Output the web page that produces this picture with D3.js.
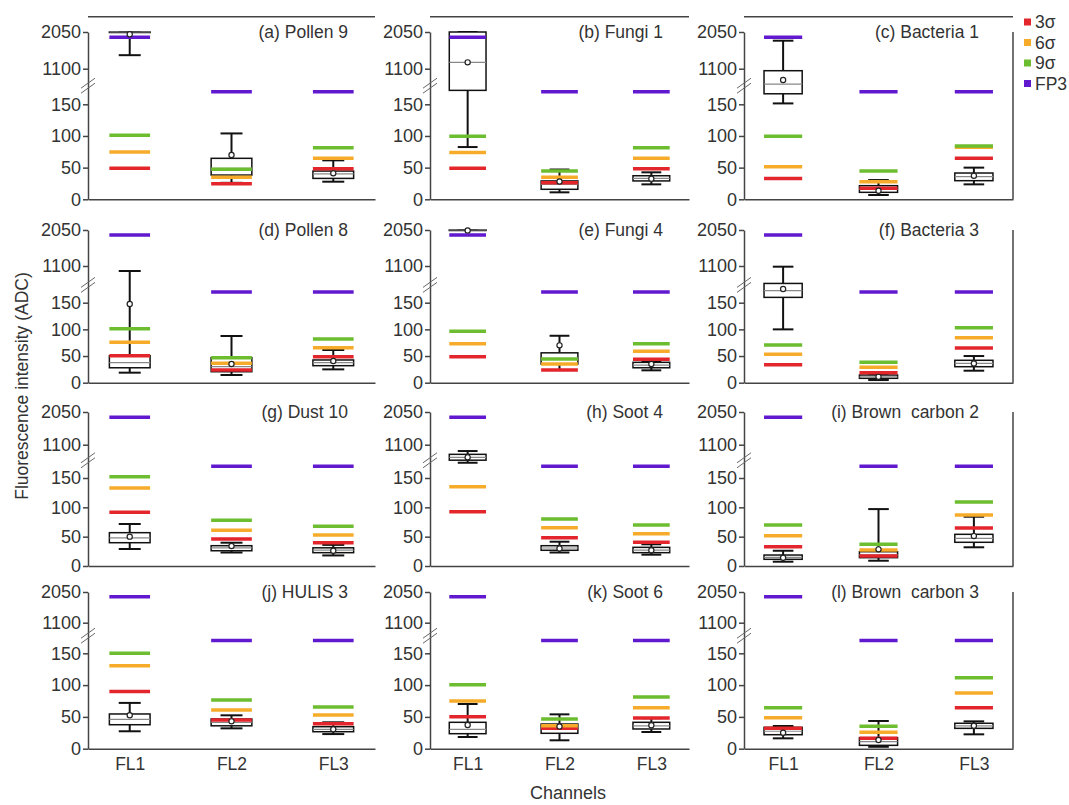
<!DOCTYPE html>
<html>
<head>
<meta charset="utf-8">
<script src="https://cdn.jsdelivr.net/npm/d3@7"></script>
<style>
  body { margin: 0; background: #fff; }
  text { font-family: "Liberation Sans", Arial, sans-serif; fill: #333; }
  .axis path, .axis line { stroke: #444; stroke-width: 1.5; }
</style>
</head>
<body>
<svg id="chart" width="1069" height="805"></svg>
<script>
// categories
const channels = ["FL1", "FL2", "FL3"];
const panelNames = [
  "(a) Pollen 9", "(b) Fungi 1", "(c) Bacteria 1",
  "(d) Pollen 8", "(e) Fungi 4", "(f) Bacteria 3",
  "(g) Dust 10", "(h) Soot 4", "(i) Brown  carbon 2",
  "(j) HULIS 3", "(k) Soot 6", "(l) Brown  carbon 3"
];
const yTicks = [0, 50, 100, 150, 1100, 2050];
const legendNames = ["3σ", "6σ", "9σ", "FP3"];

// threshold lines, one row per panel, [FL1, FL2, FL3]
const sigma3 = [
  [49, 24.6, 48.3], [49, 26, 48.3], [33, 17.4, 65],
  [50.6, 23.8, 48.8], [48.8, 23.8, 43.8], [33.8, 18.8, 65],
  [91.5, 46, 39.7], [92.6, 48.2, 40.4], [33, 17, 64.8],
  [90, 45, 39.3], [50.3, 32, 48.3], [32, 16.3, 64.5]
];
const sigma6 = [
  [74.6, 34.7, 64.7], [74, 35, 64.7], [51.4, 27.8, 82],
  [75.7, 36.4, 65.6], [73, 35, 58.8], [53.2, 28.8, 84.4],
  [133, 61, 52.8], [135, 65.3, 55], [51.7, 27.3, 87],
  [130.5, 61, 53], [75, 36, 64.5], [48.7, 25.8, 87.6]
];
const sigma9 = [
  [101, 47.3, 81.4], [99.4, 44.6, 81.4], [99.4, 44.6, 84],
  [101, 47, 82], [96.4, 44.4, 73], [70.7, 38.2, 103],
  [152, 78, 67.7], [null, 80, 70], [70, 37, 109],
  [150, 76.6, 65.6], [100.6, 46.7, 81.3], [64.5, 35.2, 111.6]
];
const fp3 = [
  [1913, 170, 170], [1913, 170, 170], [1913, 170, 170],
  [1918, 170, 170], [1918, 170, 170], [1918, 170, 170],
  [1896, 170, 170], [1896, 170, 170], [1896, 170, 170],
  [1905, 170, 170], [1905, 170, 170], [1905, 170, 170]
];

// box plot statistics
const whiskerLow = [
  [1450, 26, 27.8], [82.5, 11, 23.6], [151.4, 6.8, 23.6],
  [18.8, 14.4, 25], [2050, 23.8, 23.2], [100, 5, 22.5],
  [29, 23, 18], [176, 23, 19.3], [7.3, 9, 31.9],
  [27.4, 32, 23], [18.4, 13.2, 26.3], [16.3, 3, 22.6]
];
const q1 = [
  [2050, 38.3, 33], [172, 15.8, 29], [166.6, 11, 29.4],
  [28, 20.6, 31.9], [2050, 35, 28], [160, 8.2, 30],
  [39.7, 26, 22.7], [650, 26.8, 22.7], [11.4, 14.2, 40.4],
  [37.7, 36, 26.7], [23.6, 24.2, 31], [22, 5.3, 32]
];
const median = [
  [2050, 49, 40], [1265, 23.6, 33], [703, 16, 35.7],
  [37.5, 30, 37.5], [2050, 45, 33], [172.5, 11, 36.4],
  [48, 31, 27], [733, 30.7, 27], [14.8, 19, 47],
  [46, 41.5, 30.5], [30.5, 32, 36], [27.4, 11, 36]
];
const q3 = [
  [2050, 64.7, 44.6], [2050, 29, 37.2], [1048, 21.5, 41.5],
  [50.6, 47, 42.6], [2050, 56, 38.2], [600, 14.4, 42],
  [56.8, 34.6, 31], [820, 34.6, 31.8], [18.7, 24.4, 54],
  [54.6, 46.7, 34.6], [41.5, 38.8, 41.5], [33.6, 17.3, 40]
];
const whiskerHigh = [
  [2050, 104, 61.5], [2050, 47, 42.6], [1825, 30.4, 50],
  [968, 87.6, 61.3], [2050, 88, 40], [1082, 16, 50],
  [71.6, 39.7, 36], [916, 41.4, 37], [26, 97, 84],
  [72, 52.5, 41.5], [70.3, 54, 48], [35.7, 43.6, 43]
];
const mean = [
  [1990, 70, 41], [1265, 28, 32.6], [807, 13.6, 37],
  [147.6, 35, 40.7], [2040, 70, 35], [175.7, 11, 36],
  [50, 34, 26], [733, 30, 27], [14, 28.4, 51],
  [52.5, 43, 30.5], [37.3, 35, 37], [25, 13.7, 36]
];

const colors = ["#e3262c", "#f6ac2a", "#6cbd2f", "#6119cf"];
const thresholds = [sigma3, sigma6, sigma9, fp3];

// layout
const colRanges = [[88, 375], [430, 689], [744, 1013]];
const titleInset = [27, 26, 34];
// y pixel of 0, 150, 1100, 2050 for each row
const rowLevels = [
  [199.3, 104.3, 68.7, 32],
  [382.7, 302.7, 266, 230],
  [566, 478, 444.7, 412],
  [748.7, 653.3, 622.7, 592]
];

const svg = d3.select("#chart");

function makeY(row) {
  const [y0, y150, y1100, y2050] = rowLevels[row];
  const kL = (y0 - y150) / 150;
  const kU = (y1100 - y2050) / 950;
  // broken axis: 0-180 below the break, 650-2050 above it
  return d3.scaleLinear()
    .domain([0, 180, 650, 2050])
    .range([y0, y0 - 180 * kL, y2050 + 1400 * kU, y2050]);
}

panelNames.forEach((name, p) => {
  const row = Math.floor(p / 3);
  const col = p % 3;
  const [xa, xb] = colRanges[col];
  const y = makeY(row);
  const x = d3.scalePoint().domain(channels).range([xa, xb]).padding(0.41);
  const bw = x.step() * 0.4;
  const g = svg.append("g");

  // axes
  g.append("g")
    .attr("class", "axis")
    .attr("transform", `translate(${xa},0)`)
    .call(d3.axisLeft(y).tickValues(yTicks).tickFormat(d3.format("d"))
      .tickSize(5).tickSizeOuter(0).tickPadding(2))
    .call(a => a.selectAll("text").style("font-size", "18px").attr("fill", "#333"));

  const xAxis = d3.axisBottom(x).tickSize(0).tickSizeOuter(0).tickPadding(9);
  if (row < 3) xAxis.tickFormat(() => "");
  g.append("g")
    .attr("class", "axis")
    .attr("transform", `translate(0,${y(0)})`)
    .call(xAxis)
    .call(a => a.selectAll("text").style("font-size", "17.5px").attr("fill", "#333"));

  // frame pieces
  if (row === 0) {
    g.append("line")
      .attr("x1", xa).attr("x2", xb)
      .attr("y1", y(2050) - 15.3).attr("y2", y(2050) - 15.3)
      .attr("stroke", "#444").attr("stroke-width", 1.5);
  }
  if (col === 2) {
    g.append("line")
      .attr("x1", xb).attr("x2", xb)
      .attr("y1", y(2050)).attr("y2", y(0))
      .attr("stroke", "#444").attr("stroke-width", 1.5);
  }

  // axis break marks
  const yb = (y(180) + y(650)) / 2;
  [-2.5, 2.5].forEach(d => {
    g.append("line")
      .attr("x1", xa - 7).attr("y1", yb + d + 5)
      .attr("x2", xa + 7).attr("y2", yb + d - 5)
      .attr("stroke", "#666").attr("stroke-width", 1);
  });

  // title
  g.append("text")
    .attr("x", xb - titleInset[col])
    .attr("y", y(2050) + 6)
    .attr("text-anchor", "end")
    .style("font-size", "17.5px")
    .style("white-space", "pre")
    .text(name);

  // box plots
  const boxes = channels.map((c, i) => ({
    c,
    lo: whiskerLow[p][i], q1: q1[p][i], med: median[p][i],
    q3: q3[p][i], hi: whiskerHigh[p][i], mean: mean[p][i]
  }));

  boxes.forEach(b => {
    const cx = x(b.c);
    g.append("line")
      .attr("x1", cx).attr("x2", cx)
      .attr("y1", y(b.q3)).attr("y2", y(b.hi))
      .attr("stroke", "#111").attr("stroke-width", 2);
    g.append("line")
      .attr("x1", cx).attr("x2", cx)
      .attr("y1", y(b.q1)).attr("y2", y(b.lo))
      .attr("stroke", "#111").attr("stroke-width", 2);
    [b.lo, b.hi].forEach(v => {
      g.append("line")
        .attr("x1", cx - bw * 0.27).attr("x2", cx + bw * 0.27)
        .attr("y1", y(v)).attr("y2", y(v))
        .attr("stroke", "#111").attr("stroke-width", 2);
    });
    g.append("rect")
      .attr("x", cx - bw / 2)
      .attr("y", y(b.q3))
      .attr("width", bw)
      .attr("height", Math.max(0.5, y(b.q1) - y(b.q3)))
      .attr("fill", "#fff")
      .attr("stroke", "#111").attr("stroke-width", 1.5);
    g.append("line")
      .attr("x1", cx - bw / 2).attr("x2", cx + bw / 2)
      .attr("y1", y(b.med)).attr("y2", y(b.med))
      .attr("stroke", "#888").attr("stroke-width", 1.2);
  });

  // threshold lines
  thresholds.forEach((arr, k) => {
    channels.forEach((c, i) => {
      const v = arr[p][i];
      if (v == null) return;
      g.append("line")
        .attr("x1", x(c) - bw / 2).attr("x2", x(c) + bw / 2)
        .attr("y1", y(v)).attr("y2", y(v))
        .attr("stroke", colors[k]).attr("stroke-width", 3.5);
    });
  });

  // means
  g.selectAll(".mean")
    .data(boxes)
    .enter()
    .append("circle")
    .attr("cx", d => x(d.c))
    .attr("cy", d => y(d.mean))
    .attr("r", 2.6)
    .attr("fill", "#fff")
    .attr("stroke", "#222")
    .attr("stroke-width", 1.2);
});

// legend
const legend = svg.append("g").attr("transform", "translate(1024,22)");
legendNames.forEach((n, i) => {
  legend.append("rect")
    .attr("x", 0).attr("y", i * 20.5 - 3.5)
    .attr("width", 7).attr("height", 7)
    .attr("fill", colors[i]);
  legend.append("text")
    .attr("x", 11).attr("y", i * 20.5)
    .attr("dy", "0.35em")
    .style("font-size", "17.5px")
    .text(n);
});

// axis titles
svg.append("text")
  .attr("transform", "translate(22,386) rotate(-90)")
  .attr("text-anchor", "middle")
  .attr("dy", "0.35em")
  .style("font-size", "17.5px")
  .text("Fluorescence intensity (ADC)");

svg.append("text")
  .attr("x", 568).attr("y", 793)
  .attr("text-anchor", "middle")
  .attr("dy", "0.35em")
  .style("font-size", "18px")
  .text("Channels");
</script>
</body>
</html>
